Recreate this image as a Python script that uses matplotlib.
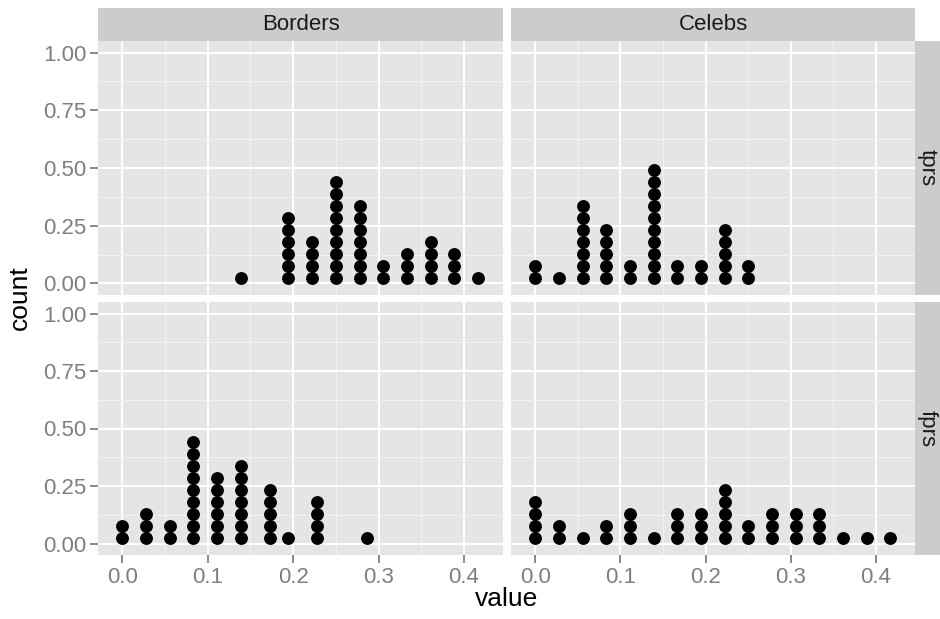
import numpy as np
import matplotlib
matplotlib.use('Agg')
import matplotlib.pyplot as plt

plt.rcParams['font.family'] = ['Liberation Sans', 'DejaVu Sans']

# facet labels
cols = ['Borders', 'Celebs']
rows = ['tprs', 'fprs']

# dot bins (value) and how many dots are stacked in each
borders_tprs_x = [5/36, 7/36, 8/36, 9/36, 10/36, 11/36, 12/36, 13/36, 14/36, 15/36]
borders_tprs_n = [1, 6, 4, 9, 7, 2, 3, 4, 3, 1]

celebs_tprs_x = [0, 1/36, 2/36, 3/36, 4/36, 5/36, 6/36, 7/36, 8/36, 9/36]
celebs_tprs_n = [2, 1, 7, 5, 2, 10, 2, 2, 5, 2]

borders_fprs_x = [0, 1/36, 2/36, 3/36, 4/36, 5/36, 0.173, 7/36, 0.228, 0.286]
borders_fprs_n = [2, 3, 2, 9, 6, 7, 5, 1, 4, 1]

celebs_fprs_x = [0, 1/36, 2/36, 3/36, 4/36, 5/36, 6/36, 7/36, 8/36, 9/36,
                 10/36, 11/36, 12/36, 13/36, 14/36, 15/36]
celebs_fprs_n = [4, 2, 1, 2, 3, 1, 3, 3, 5, 2, 3, 3, 3, 1, 1, 1]

data = {
    ('tprs', 'Borders'): (borders_tprs_x, borders_tprs_n),
    ('tprs', 'Celebs'): (celebs_tprs_x, celebs_tprs_n),
    ('fprs', 'Borders'): (borders_fprs_x, borders_fprs_n),
    ('fprs', 'Celebs'): (celebs_fprs_x, celebs_fprs_n),
}

W, H = 940, 619
fig = plt.figure(figsize=(W / 100, H / 100), dpi=100)

def box(x0, y0, x1, y1):
    # pixel box -> figure fraction
    return [x0 / W, 1 - y1 / H, (x1 - x0) / W, (y1 - y0) / H]

panel_x = [(98, 503), (511, 915)]
panel_y = [(41, 295), (302, 555)]
xlim = (-0.0285, 0.4458)
ylim = (-0.05, 1.05)
dot_px = 11.9
grey50 = '#7F7F7F'
fs = 16

for r, row in enumerate(rows):
    for c, col in enumerate(cols):
        x0, x1 = panel_x[c]
        y0, y1 = panel_y[r]
        ax = fig.add_axes(box(x0, y0, x1, y1))
        ax.set_facecolor('#E5E5E5')
        ax.set_xlim(*xlim)
        ax.set_ylim(*ylim)
        for s in ax.spines.values():
            s.set_visible(False)
        ax.set_xticks([0, 0.1, 0.2, 0.3, 0.4])
        ax.set_xticks([0.05, 0.15, 0.25, 0.35], minor=True)
        ax.set_yticks([0, 0.25, 0.5, 0.75, 1.0])
        ax.set_yticks([0.125, 0.375, 0.625, 0.875], minor=True)
        ax.set_xticklabels(['0.0', '0.1', '0.2', '0.3', '0.4'])
        ax.set_yticklabels(['0.00', '0.25', '0.50', '0.75', '1.00'])
        ax.grid(which='major', color='white', lw=1.4)
        ax.grid(which='minor', color='#F2F2F2', lw=0.7)
        ax.set_axisbelow(True)
        ax.tick_params(which='major', length=5.5, width=1.3, color=grey50,
                       labelcolor=grey50, labelsize=fs, pad=3)
        ax.tick_params(which='minor', length=0)
        if r == 0:
            ax.tick_params(axis='x', length=0, labelbottom=False)
        if c == 1:
            ax.tick_params(axis='y', length=0, labelleft=False)

        # stacked dots
        step = dot_px / ((y1 - y0) / (ylim[1] - ylim[0]))
        xs, ys = [], []
        vals, counts = data[(row, col)]
        for v, n in zip(vals, counts):
            for k in range(n):
                xs.append(v)
                ys.append((k + 0.5) * step)
        ax.scatter(xs, ys, s=86, color='black', lw=0, zorder=3)

        # top strips
        if r == 0:
            sx = fig.add_axes(box(x0, 8, x1, 41))
            sx.set_facecolor('#CCCCCC')
            sx.set_xticks([]); sx.set_yticks([])
            for s in sx.spines.values():
                s.set_visible(False)
            sx.text(0.5, 0.5, col, ha='center', va='center', fontsize=fs,
                    color='#1A1A1A', transform=sx.transAxes)
        # right strips
        if c == 1:
            sy = fig.add_axes(box(915, y0, 940, y1))
            sy.set_facecolor('#CCCCCC')
            sy.set_xticks([]); sy.set_yticks([])
            for s in sy.spines.values():
                s.set_visible(False)
            sy.text(0.5, 0.5, row, ha='center', va='center', fontsize=fs,
                    rotation=-90, color='#1A1A1A', transform=sy.transAxes)

fig.text(20 / W, 1 - 298 / H, 'count', rotation=90, ha='center', va='center',
         fontsize=19, color='black')
fig.text(507 / W, 1 - 599 / H, 'value', ha='center', va='center',
         fontsize=19, color='black')

fig.savefig('out.png', dpi=100)
